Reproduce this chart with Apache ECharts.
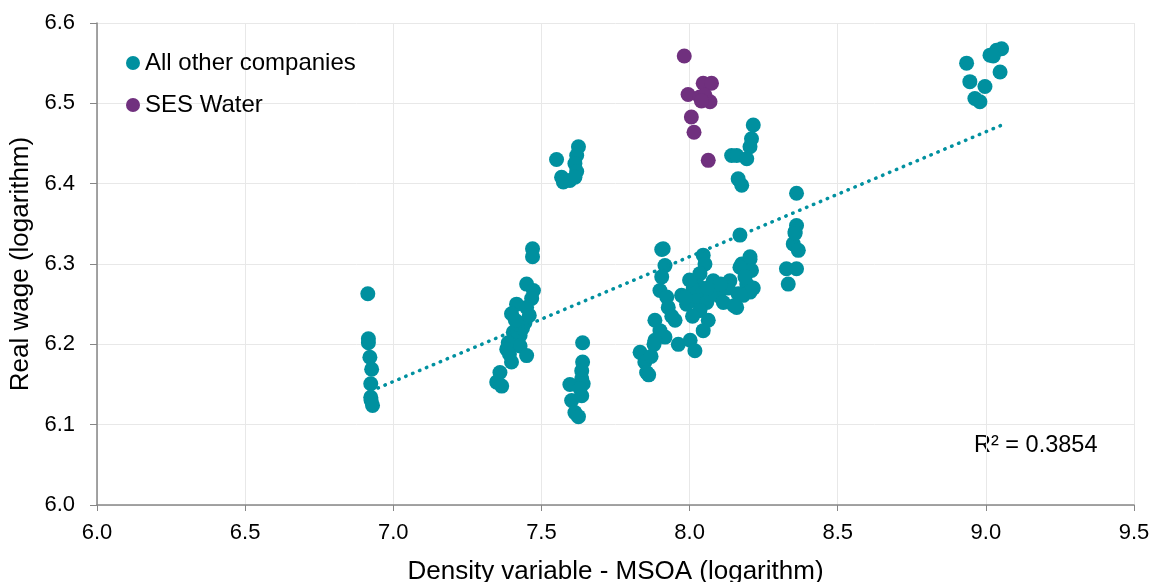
<!DOCTYPE html>
<html>
<head>
<meta charset="utf-8">
<script src="https://cdn.jsdelivr.net/npm/echarts@6/dist/echarts.min.js"></script>
<style>
html,body{margin:0;padding:0;background:#fff;}
#chart{width:1154px;height:582px;}
</style>
</head>
<body>
<div id="chart"></div>
<script>
// ---- Data ----
var otherX = [
  6.914,6.916,6.916,6.921,6.927,6.924,6.924,6.925,6.930,
  7.470,7.470,7.450,7.473,7.467,7.416,7.450,7.399,7.444,7.405,7.428,7.388,7.428,7.383,7.450,7.399,7.360,7.349,7.366,7.459,7.436,7.412,7.392,
  7.551,7.625,7.619,7.613,7.619,7.568,7.574,7.596,7.613,
  7.639,7.639,7.636,7.596,7.636,7.641,7.602,7.636,7.613,7.625,7.630,
  7.911,7.906,7.917,7.906,7.900,7.923,7.928,7.883,7.900,7.917,7.883,7.833,7.849,7.855,7.862,7.973,7.951,7.962,8.002,8.018,
  8.046,8.052,8.035,8.029,8.012,8.041,8.024,8.058,8.035,8.063,8.046,8.080,8.097,8.114,8.136,8.159,8.164,8.176,8.204,8.209,
  8.193,8.204,8.181,8.170,8.187,8.204,8.170,8.080,7.990,7.985,8.010,8.070,8.130,8.150,8.105,8.215,7.940,7.870,7.880,8.000,8.060,
  8.215,8.209,8.204,8.142,8.159,8.193,8.164,8.176,
  8.361,8.361,8.356,8.350,8.367,8.327,8.361,8.333,8.356,
  8.935,9.014,9.036,9.053,9.048,8.946,8.997,8.963,8.980,9.025
];
var otherY = [
  6.263,6.207,6.202,6.184,6.169,6.151,6.134,6.130,6.124,
  6.319,6.309,6.275,6.267,6.257,6.250,6.246,6.238,6.227,6.215,6.211,6.202,6.198,6.194,6.186,6.178,6.165,6.153,6.148,6.236,6.220,6.230,6.188,
  6.430,6.446,6.435,6.425,6.415,6.408,6.402,6.404,6.408,
  6.202,6.178,6.167,6.150,6.157,6.151,6.130,6.136,6.115,6.110,6.145,
  6.319,6.318,6.298,6.284,6.267,6.259,6.246,6.230,6.217,6.209,6.205,6.190,6.178,6.165,6.162,6.261,6.230,6.200,6.205,6.192,
  6.311,6.300,6.288,6.273,6.269,6.263,6.254,6.252,6.242,6.230,6.217,6.279,6.261,6.252,6.279,6.246,6.263,6.300,6.306,6.292,
  6.275,6.265,6.261,6.296,6.284,6.309,6.336,6.277,6.250,6.258,6.235,6.262,6.270,6.248,6.275,6.270,6.235,6.185,6.200,6.280,6.270,
  6.473,6.456,6.446,6.435,6.435,6.431,6.406,6.398,
  6.388,6.348,6.340,6.325,6.317,6.294,6.294,6.275,6.338,
  6.550,6.560,6.566,6.568,6.539,6.527,6.521,6.506,6.502,6.559
];
var sesX = [7.982,8.046,8.074,7.995,8.035,8.069,8.052,8.006,8.015,8.063,8.040];
var sesY = [6.559,6.525,6.525,6.511,6.508,6.502,6.510,6.483,6.464,6.429,6.503];
// Linear trend line endpoints
var trendX = [6.925, 9.054];
var trendY = [6.142, 6.473];
var rSquaredLabel = 'R² = 0.3854';
var seriesNames = ['All other companies', 'SES Water'];
var xTitle = 'Density variable - MSOA (logarithm)';
var yTitle = 'Real wage (logarithm)';

function pairs(xs, ys){ return xs.map(function(x,i){ return [x, ys[i]]; }); }

var TEAL = '#00909F';
var PURPLE = '#70307E';
var FONT = '"Liberation Sans", Arial, sans-serif';

var chart = echarts.init(document.getElementById('chart'), null, {renderer:'canvas'});
chart.setOption({
  animation: false,
  backgroundColor: '#fff',
  textStyle: {fontFamily: FONT},
  grid: {left: 97, right: 20, top: 23, bottom: 77, containLabel: false, outerBoundsMode: 'none'},
  legend: {
    data: seriesNames,
    orient: 'vertical',
    left: 126, top: 51,
    padding: 0,
    icon: 'circle',
    itemWidth: 14, itemHeight: 14,
    itemGap: 18,
    textStyle: {fontFamily: FONT, fontSize: 24, color: '#000'}
  },
  xAxis: {
    type: 'value', min: 6.0, max: 9.5, interval: 0.5,
    name: xTitle, nameLocation: 'middle', nameGap: 54,
    nameTextStyle: {fontFamily: FONT, fontSize: 26, color: '#000'},
    axisLine: {show: true, onZero: false, lineStyle: {color: '#868686', width: 1.5}},
    axisTick: {show: true, length: 6, lineStyle: {color: '#868686'}},
    axisLabel: {fontFamily: FONT, fontSize: 22, color: '#000', margin: 17,
      formatter: function(v){ return v.toFixed(1); }},
    splitLine: {show: true, lineStyle: {color: '#e8e8e8', width: 1}}
  },
  yAxis: {
    type: 'value', min: 6.0, max: 6.6, interval: 0.1,
    name: yTitle, nameLocation: 'middle', nameGap: 60, nameRotate: 90,
    nameTextStyle: {fontFamily: FONT, fontSize: 26, color: '#000'},
    axisLine: {show: true, onZero: false, lineStyle: {color: '#868686', width: 1.5}},
    axisTick: {show: true, length: 7, inside: false, lineStyle: {color: '#868686'}},
    axisLabel: {fontFamily: FONT, fontSize: 22, color: '#000', margin: 22,
      formatter: function(v){ return v.toFixed(1); }},
    splitLine: {show: true, lineStyle: {color: '#e8e8e8', width: 1}}
  },
  series: [
    {
      name: seriesNames[0], type: 'scatter', symbol: 'circle', symbolSize: 15,
      itemStyle: {color: TEAL, opacity: 1},
      data: pairs(otherX, otherY), z: 3
    },
    {
      name: seriesNames[1], type: 'scatter', symbol: 'circle', symbolSize: 15,
      itemStyle: {color: PURPLE, opacity: 1},
      data: pairs(sesX, sesY), z: 3
    },
    {
      name: 'trend', type: 'line', showSymbol: false, symbol: 'none',
      lineStyle: {color: TEAL, width: 3.5, type: [0.5, 7], cap: 'round'},
      data: pairs(trendX, trendY), z: 4, silent: true
    }
  ],
  graphic: [{
    type: 'text', left: 974, top: 434,
    style: {text: rSquaredLabel, fill: '#000', font: '23.5px ' + FONT}
  }]
});
</script>
</body>
</html>
